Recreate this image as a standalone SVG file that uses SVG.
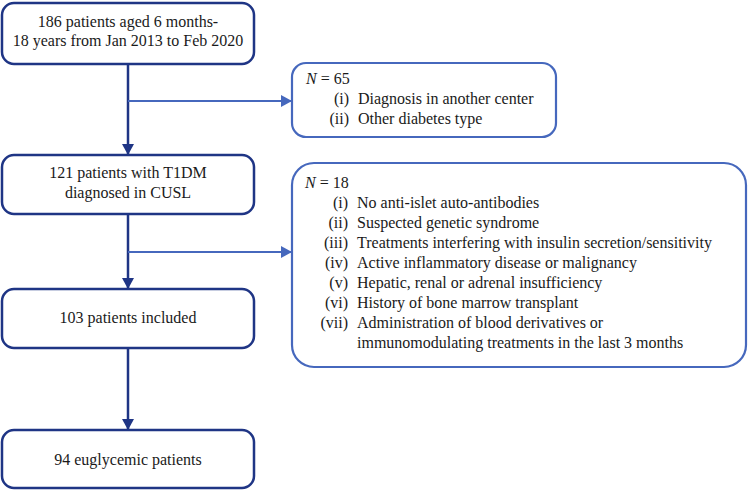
<svg xmlns="http://www.w3.org/2000/svg" width="749" height="491" viewBox="0 0 749 491">
<style>
.main{fill:#fff;stroke:#1f3585;stroke-width:2.5}
.side{fill:#fff;stroke:#4668bd;stroke-width:2.2}
.c{text-anchor:middle}
.r{text-anchor:end}
.dk{stroke:#1f3585;stroke-width:2.5;fill:none}
.lt{stroke:#4668bd;stroke-width:2;fill:none}
</style>
<defs>
<marker id="ad" markerUnits="userSpaceOnUse" markerWidth="12" markerHeight="12" refX="11" refY="6" orient="auto">
<path d="M0,0 L11,6 L0,12 Z" fill="#1f3585"/>
</marker>
<marker id="al" markerUnits="userSpaceOnUse" markerWidth="12" markerHeight="12" refX="11" refY="6" orient="auto">
<path d="M0,0 L11,6 L0,12 Z" fill="#4668bd"/>
</marker>
</defs>
<g id="connectors">
<line class="dk" x1="128" y1="64" x2="128" y2="155" marker-end="url(#ad)"/>
<line class="dk" x1="128" y1="214" x2="128" y2="289" marker-end="url(#ad)"/>
<line class="dk" x1="128" y1="348" x2="128" y2="430" marker-end="url(#ad)"/>
<line class="lt" x1="128" y1="101" x2="292" y2="101" marker-end="url(#al)"/>
<line class="lt" x1="128" y1="252" x2="292" y2="252" marker-end="url(#al)"/>
</g>
<g font-family="Liberation Serif, Times New Roman, serif" font-size="16" fill="#1a1a1a">
<g id="n1">
<rect class="main" x="2" y="3" width="252" height="61" rx="12"/>
<text class="c" x="128" y="27">186 patients aged 6 months-</text>
<text class="c" x="128" y="46">18 years from Jan 2013 to Feb 2020</text>
</g>
<g id="n2">
<rect class="main" x="2" y="155" width="252" height="59" rx="12"/>
<text class="c" x="128" y="178">121 patients with T1DM</text>
<text class="c" x="128" y="198">diagnosed in CUSL</text>
</g>
<g id="n3">
<rect class="main" x="2" y="289" width="252" height="59" rx="12"/>
<text class="c" x="128" y="323">103 patients included</text>
</g>
<g id="n4">
<rect class="main" x="2" y="430" width="252" height="58" rx="12"/>
<text class="c" x="128" y="465">94 euglycemic patients</text>
</g>
<g id="e1">
<rect class="side" x="292" y="63" width="264" height="74" rx="14"/>
<text x="306" y="84"><tspan font-style="italic">N</tspan> = 65</text>
<text class="r" x="349" y="104">(i)</text>
<text x="358" y="104">Diagnosis in another center</text>
<text class="r" x="349" y="124">(ii)</text>
<text x="358" y="124">Other diabetes type</text>
</g>
<g id="e2">
<rect class="side" x="292" y="163" width="454" height="204" rx="22"/>
<text x="305" y="188"><tspan font-style="italic">N</tspan> = 18</text>
<text class="r" x="348" y="208">(i)</text>
<text x="357" y="208">No anti-islet auto-antibodies</text>
<text class="r" x="348" y="228">(ii)</text>
<text x="357" y="228">Suspected genetic syndrome</text>
<text class="r" x="348" y="248">(iii)</text>
<text x="357" y="248">Treatments interfering with insulin secretion/sensitivity</text>
<text class="r" x="348" y="268">(iv)</text>
<text x="357" y="268">Active inflammatory disease or malignancy</text>
<text class="r" x="348" y="288">(v)</text>
<text x="357" y="288">Hepatic, renal or adrenal insufficiency</text>
<text class="r" x="348" y="308">(vi)</text>
<text x="357" y="308">History of bone marrow transplant</text>
<text class="r" x="348" y="328">(vii)</text>
<text x="357" y="328">Administration of blood derivatives or</text>
<text x="357" y="348">immunomodulating treatments in the last 3 months</text>
</g>
</g>
</svg>
